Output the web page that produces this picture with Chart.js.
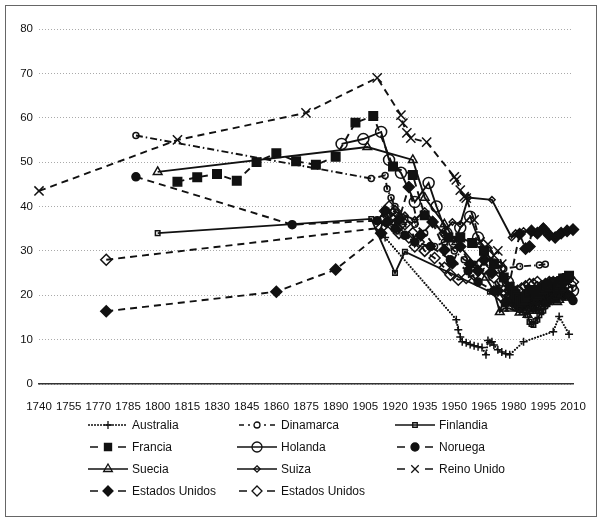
<!DOCTYPE html>
<html>
<head>
<meta charset="utf-8">
<script src="https://cdn.jsdelivr.net/npm/chart.js@4.4.1/dist/chart.umd.min.js"></script>
<style>
  body { margin: 0; background: #fff; font-family: "Liberation Sans", Arial, sans-serif; }
  #frame { position: absolute; left: 5px; top: 5px; width: 590px; height: 510px; border: 1px solid #666; }
  #wrap { position: absolute; left: 0; top: 0; width: 600px; height: 420px; }
  .item { position: absolute; height: 16px; display: flex; align-items: center; font-size: 12px; color: #111; white-space: nowrap; }
  .item canvas { margin-right: 4px; }
</style>
</head>
<body>
<div id="frame"></div>
<div id="wrap"><canvas id="chart" width="600" height="420"></canvas></div>
<div id="legend"></div>
<script>
// top 1% wealth share (%)
const australiaYears = [1915, 1951, 1952, 1953, 1954, 1956, 1958, 1960, 1962, 1964, 1966, 1967, 1968, 1969, 1970, 1972, 1974, 1976, 1978, 1985, 2000, 2003, 2008];
const australiaShares = [33, 14.5, 12.2, 10.6, 9.5, 9.3, 8.9, 8.6, 8.4, 8.2, 6.6, 9.8, 9.3, 9.5, 8.8, 7.7, 7.2, 6.8, 6.6, 9.5, 11.8, 15.2, 11.2];

const dinamarcaYears = [1789, 1908, 1915, 1916, 1918, 1920, 1925, 1930, 1935, 1940, 1945, 1950, 1955, 1960, 1965, 1970, 1975, 1983, 1993, 1996];
const dinamarcaShares = [56, 46.3, 47, 44, 42, 40, 37, 36, 34, 31, 32, 30, 28, 27, 29, 27.5, 26, 26.5, 26.8, 27];

const finlandiaYears = [1800, 1908, 1920, 1925, 1968, 1975, 1983, 1987, 1988, 1989, 1990, 1991, 1992, 1993, 1994, 1995, 1996, 1997, 1998, 1999, 2000, 2001, 2002, 2003, 2004, 2005];
const finlandiaShares = [34, 37.2, 25, 29.8, 20.8, 18, 17, 15.5, 14, 13.5, 13.3, 14.2, 14.5, 15.5, 16.2, 16.5, 17.5, 18, 18.5, 19, 19.5, 19.8, 20.5, 20.2, 21, 21.5];

const franciaYears = [1810, 1820, 1830, 1840, 1850, 1860, 1870, 1880, 1890, 1900, 1909, 1919, 1929, 1935, 1947, 1953, 1959, 1965, 1970, 1975, 1978, 1980, 1981, 1982, 1983, 1984, 1985, 1986, 1987, 1988, 1989, 1990, 1991, 1992, 1993, 1994, 1995, 1996, 1997, 1998, 1999, 2000, 2001, 2002, 2003, 2004, 2005, 2006, 2007, 2008];
const franciaShares = [45.6, 46.6, 47.3, 45.8, 50, 52, 50.2, 49.4, 51.2, 58.9, 60.4, 49, 47.1, 38, 33, 33, 31.8, 30, 27, 24, 21.9, 21, 20.2, 19.5, 19, 18.6, 18.8, 19.5, 20.3, 20.8, 21.2, 21, 20.4, 20, 20.5, 21, 21.4, 21.8, 22.3, 22, 22.6, 23, 22.4, 21.8, 22.5, 23.2, 23.8, 23.5, 23.9, 24.4];

const holandaYears = [1893, 1904, 1913, 1917, 1923, 1930, 1937, 1941, 1946, 1950, 1953, 1958, 1962, 1967, 1973, 1977, 1980, 1982, 1984, 1986, 1988, 1990, 1992, 1993, 1995, 1997, 1999, 2000, 2001, 2003, 2005, 2007, 2009, 2010];
const holandaShares = [54.1, 55.2, 56.8, 50.5, 47.6, 41, 45.3, 40, 34, 32, 35.2, 37.7, 33, 29, 26.2, 23, 20.5, 19.5, 18.5, 18, 19, 19.5, 20.5, 21, 21.5, 22, 22.5, 21.5, 22, 21, 22, 21.5, 22, 21];

const noruegaYears = [1789, 1868, 1911, 1915, 1920, 1925, 1930, 1938, 1948, 1957, 1962, 1970, 1979, 1981, 1982, 1984, 1985, 1986, 1987, 1988, 1989, 1990, 1991, 1992, 1993, 1994, 1995, 1996, 1997, 1998, 1999, 2000, 2001, 2002, 2003, 2004, 2005, 2006, 2007, 2008, 2009, 2010];
const noruegaShares = [46.7, 35.9, 36.8, 39, 35, 33.5, 32, 31, 28, 25.5, 23, 21, 19, 18, 17.5, 17.2, 17.8, 18.5, 18, 18.7, 18.5, 19, 19.2, 18.6, 19.4, 19.8, 19.5, 20, 20.5, 20.1, 20.6, 20.5, 21.2, 20.7, 21.4, 21.5, 21, 20.6, 20.2, 20, 19.5, 18.8];

const sueciaYears = [1800, 1906, 1929, 1935, 1945, 1951, 1966, 1970, 1973, 1975, 1978, 1983, 1985, 1987, 1988, 1989, 1990, 1991, 1992, 1993, 1994, 1995, 1996, 1997, 1998, 1999, 2000, 2001, 2002, 2003, 2004, 2005, 2006, 2007];
const sueciaShares = [47.8, 53.4, 50.5, 42, 36, 32, 24, 21, 16.2, 17, 17, 16.1, 16.3, 15.6, 16.5, 17, 17, 16.8, 17.2, 16.5, 17.5, 18, 18.2, 18.5, 19, 19.6, 19.5, 18.8, 18.5, 19, 19.5, 19.8, 20, 19.5];

const suizaYears = [1919, 1925, 1930, 1935, 1939, 1944, 1949, 1953, 1957, 1969, 1979, 1981, 1985, 1991, 1995, 1997, 2001, 2003, 2007, 2010];
const suizaShares = [39, 38, 37, 39, 37, 34, 36.5, 36, 42, 41.5, 33, 34, 34.5, 34, 35.5, 34.5, 33, 34, 34.5, 35];

const reinoUnidoYears = [1740, 1810, 1875, 1911, 1923, 1924, 1926, 1928, 1936, 1950, 1951, 1953, 1955, 1956, 1960, 1963, 1965, 1967, 1970, 1972, 1974, 1976, 1977, 1978, 1979, 1980, 1981, 1982, 1983, 1984, 1985, 1986, 1987, 1988, 1989, 1990, 1991, 1992, 1993, 1994, 1995, 1996, 1997, 1998, 1999, 2000, 2001, 2002, 2003, 2004, 2005];
const reinoUnidoShares = [43.5, 55, 61.1, 69, 60.6, 58.8, 56.6, 55.4, 54.5, 46.7, 46, 43.7, 42.2, 41.9, 37, 32, 30.5, 31.5, 29, 30, 27, 23, 22, 21, 20, 20, 19.5, 18.5, 18, 18.5, 18, 18, 17.5, 18, 18, 18, 18.5, 19, 19.5, 19, 19.5, 20, 20.5, 21, 21, 21, 20.5, 21, 21.5, 21, 21.5];

const eeuu1Years = [1774, 1860, 1890, 1913, 1916, 1922, 1927, 1933, 1939, 1945, 1949, 1953, 1958, 1962, 1965, 1969, 1972, 1976, 1983, 1986, 1988, 1989, 1992, 1995, 1998, 2001, 2004, 2007, 2010];
const eeuu1Shares = [16.4, 20.8, 25.8, 34, 36.5, 37, 44.4, 33.5, 36.5, 30.2, 27.2, 31, 27, 25.5, 28, 25, 21, 18.5, 33.8, 30.5, 31, 34.5, 34, 35, 33.5, 33, 34, 34.5, 34.8];

const eeuu2Years = [1774, 1913, 1914, 1915, 1916, 1917, 1918, 1919, 1920, 1921, 1922, 1923, 1925, 1927, 1929, 1930, 1932, 1935, 1940, 1945, 1948, 1952, 1956, 1960, 1965, 1970, 1975, 1978, 1980, 1982, 1984, 1986, 1988, 1990, 1992, 1994, 1996, 1998, 2000, 2002, 2004, 2006, 2008, 2010];
const eeuu2Shares = [28, 35.2, 37, 39, 38, 40, 36, 37, 39, 35, 34, 36, 36, 33, 34, 31, 32, 30, 28.4, 26.2, 24.6, 23.5, 23.9, 24.6, 26, 24, 21, 20, 20.5, 21, 21.5, 22, 22.5, 22.5, 23, 22, 22.5, 23, 23, 22.5, 23.5, 23.5, 24, 23];

const xTickMin = 1740, xTickMax = 2010, xTickStep = 15;
const yTickMin = 0, yTickMax = 80, yTickStep = 10;

const INK = '#111';
const DASH = [7, 5];
const series = [
  { label: 'Australia', years: australiaYears, values: australiaShares, line: 'dotted', marker: 'cross', r: 4, filled: false },
  { label: 'Dinamarca', years: dinamarcaYears, values: dinamarcaShares, line: 'dashdot', marker: 'circle', r: 3, filled: false },
  { label: 'Finlandia', years: finlandiaYears, values: finlandiaShares, line: 'solid', marker: 'rect', r: 3.2, filled: false },
  { label: 'Francia', years: franciaYears, values: franciaShares, line: 'dashed', marker: 'rect', r: 6, filled: true },
  { label: 'Holanda', years: holandaYears, values: holandaShares, line: 'solid', marker: 'circle', r: 5.5, filled: false },
  { label: 'Noruega', years: noruegaYears, values: noruegaShares, line: 'dashed', marker: 'circle', r: 4, filled: true },
  { label: 'Suecia', years: sueciaYears, values: sueciaShares, line: 'solid', marker: 'triangle', r: 5, filled: false },
  { label: 'Suiza', years: suizaYears, values: suizaShares, line: 'solid', marker: 'rectRot', r: 3.2, filled: false },
  { label: 'Reino Unido', years: reinoUnidoYears, values: reinoUnidoShares, line: 'dashed', marker: 'crossRot', r: 6.5, filled: false },
  { label: 'Estados Unidos', years: eeuu1Years, values: eeuu1Shares, line: 'dashed', marker: 'rectRot', r: 5.5, filled: true },
  { label: 'Estados Unidos', years: eeuu2Years, values: eeuu2Shares, line: 'dashed', marker: 'rectRot', r: 5.5, filled: false }
];

function dashFor(line) {
  if (line === 'dotted') return [0, 3];
  if (line === 'dashdot') return [7, 3, 1.5, 3];
  if (line === 'dashed') return DASH;
  return [];
}

const datasets = series.map(s => ({
  label: s.label,
  data: s.years.map((yr, i) => ({ x: yr, y: s.values[i] })),
  borderColor: INK,
  borderWidth: s.line === 'dotted' ? 2.2 : 1.9,
  borderDash: dashFor(s.line),
  borderCapStyle: s.line === 'dotted' ? 'round' : 'butt',
  tension: 0,
  fill: false,
  clip: false,
  pointStyle: s.marker,
  pointRadius: s.r,
  pointHoverRadius: s.r,
  pointBorderColor: INK,
  pointBorderWidth: 1.5,
  pointBackgroundColor: s.filled ? INK : 'rgba(0,0,0,0)'
}));

new Chart(document.getElementById('chart').getContext('2d'), {
  type: 'line',
  data: { datasets },
  options: {
    responsive: false,
    animation: false,
    layout: { padding: { top: 29, right: 27, left: 0, bottom: 0 } },
    plugins: { legend: { display: false }, tooltip: { enabled: false } },
    scales: {
      x: {
        type: 'linear',
        min: xTickMin, max: xTickMax,
        afterFit: scale => { scale.height = 36; },
        ticks: {
          stepSize: xTickStep, autoSkip: false, maxRotation: 0, padding: 8,
          color: '#111', font: { family: 'Liberation Sans', size: 11.5 },
          callback: v => String(v)
        },
        grid: { display: false },
        border: { display: true, color: '#333', width: 1.5 }
      },
      y: {
        min: yTickMin, max: yTickMax,
        afterFit: scale => { scale.width = 39; },
        ticks: {
          stepSize: yTickStep, padding: 6,
          color: '#111', font: { family: 'Liberation Sans', size: 11.5 }
        },
        grid: { color: '#aaa', lineWidth: 1, drawTicks: false },
        border: { display: false, dash: [1, 2] }
      }
    }
  }
});

// legend: 3 columns x 4 rows
const legendCols = [88, 237, 395];
const legendRows = [425, 447, 469, 491];
function drawMarker(ctx, s, x, y) {
  ctx.save();
  ctx.strokeStyle = INK; ctx.fillStyle = INK; ctx.lineWidth = 1.3; ctx.setLineDash([]);
  const r = Math.min(s.r, 5);
  ctx.beginPath();
  if (s.marker === 'circle') {
    ctx.arc(x, y, r, 0, Math.PI * 2);
  } else if (s.marker === 'rect') {
    const h = r * Math.SQRT1_2;
    ctx.rect(x - h, y - h, 2 * h, 2 * h);
  } else if (s.marker === 'rectRot') {
    ctx.moveTo(x, y - r); ctx.lineTo(x + r, y); ctx.lineTo(x, y + r); ctx.lineTo(x - r, y); ctx.closePath();
  } else if (s.marker === 'triangle') {
    ctx.moveTo(x, y - r); ctx.lineTo(x + r * 0.87, y + r * 0.5); ctx.lineTo(x - r * 0.87, y + r * 0.5); ctx.closePath();
  } else if (s.marker === 'cross') {
    ctx.moveTo(x, y - r); ctx.lineTo(x, y + r); ctx.moveTo(x - r, y); ctx.lineTo(x + r, y);
  } else if (s.marker === 'crossRot') {
    const d = r * 0.75;
    ctx.moveTo(x - d, y - d); ctx.lineTo(x + d, y + d); ctx.moveTo(x + d, y - d); ctx.lineTo(x - d, y + d);
  }
  if (s.filled) ctx.fill();
  ctx.stroke();
  ctx.restore();
}
function drawSample(cv, s) {
  const ctx = cv.getContext('2d');
  const w = cv.width, y = cv.height / 2;
  ctx.strokeStyle = INK; ctx.fillStyle = INK; ctx.lineWidth = 1.7;
  ctx.beginPath();
  if (s.line === 'solid') {
    ctx.moveTo(0, y); ctx.lineTo(w, y);
  } else if (s.line === 'dashed') {
    ctx.moveTo(2, y); ctx.lineTo(10, y); ctx.moveTo(w - 10, y); ctx.lineTo(w - 2, y);
  } else if (s.line === 'dashdot') {
    ctx.moveTo(2, y); ctx.lineTo(7, y); ctx.moveTo(11, y); ctx.lineTo(13, y);
    ctx.moveTo(w - 13, y); ctx.lineTo(w - 11, y); ctx.moveTo(w - 7, y); ctx.lineTo(w - 2, y);
  }
  ctx.stroke();
  if (s.line === 'dotted') {
    for (let x = 1; x < w; x += 3) { ctx.beginPath(); ctx.arc(x, y, 1, 0, Math.PI * 2); ctx.fill(); }
  }
  drawMarker(ctx, s, w / 2, y);
}
const legend = document.getElementById('legend');
series.forEach((s, i) => {
  const item = document.createElement('div');
  item.className = 'item';
  item.style.left = legendCols[i % 3] + 'px';
  item.style.top = (legendRows[Math.floor(i / 3)] - 8) + 'px';
  const cv = document.createElement('canvas');
  cv.width = 40; cv.height = 14;
  drawSample(cv, s);
  const txt = document.createElement('span');
  txt.textContent = s.label;
  item.appendChild(cv); item.appendChild(txt);
  legend.appendChild(item);
});
</script>
</body>
</html>
